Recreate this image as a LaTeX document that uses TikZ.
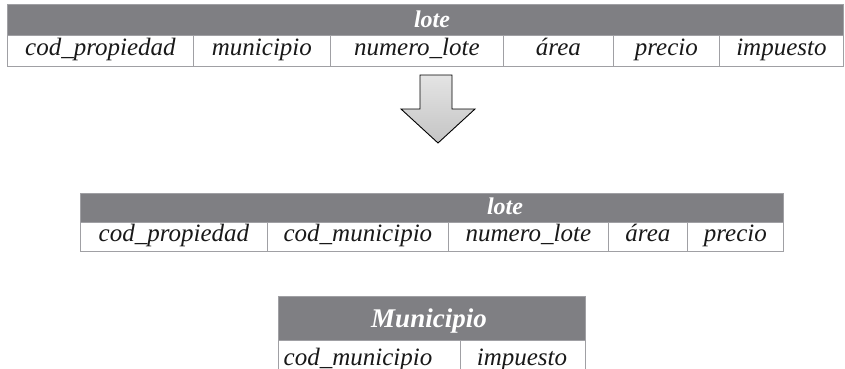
\documentclass[tikz,border=0pt]{standalone}
\usepackage{fontspec}
\setmainfont{Liberation Serif}
\begin{document}
\begin{tikzpicture}[x=1pt,y=-1pt,
  hdr/.style={fill=hdrgray, draw=bordergray, line width=0.8pt, inner sep=0pt, anchor=north west},
  cell/.style={fill=white, draw=bordergray, line width=0.8pt, inner sep=0pt, anchor=north west, font=\fontsize{25}{28}\selectfont\itshape, text=black!90, text height=15pt, text depth=5pt},
  celltext/.style={anchor=base, font=\fontsize{25}{28}\selectfont\itshape, text=black!90, inner sep=0pt},
  hdrtext/.style={font=\fontsize{24}{26}\selectfont\bfseries\itshape, text=white, inner sep=0pt},
  arrowshape/.style={draw=black, line width=0.9pt, top color=arrowtop, bottom color=arrowbot, line join=miter}
]
\definecolor{hdrgray}{RGB}{127,127,131}
\definecolor{bordergray}{RGB}{160,160,164}
\definecolor{arrowtop}{RGB}{228,228,228}
\definecolor{arrowbot}{RGB}{196,196,196}
\useasboundingbox (0,0) rectangle (845,369);
% table 1
\node[hdr, minimum width=836pt, minimum height=31pt] (h1) at (7,4) {};
\node[hdrtext] (h1t) at (432,19.5) {lote};
\node[cell, minimum width=186pt, minimum height=31pt] (a1) at (7,35) {cod\_propiedad};
\node[cell, minimum width=137pt, minimum height=31pt] (a2) at (193,35) {municipio};
\node[cell, minimum width=173pt, minimum height=31pt] (a3) at (330,35) {numero\_lote};
\node[cell, minimum width=110pt, minimum height=31pt] (a4) at (503,35) {área};
\node[cell, minimum width=106pt, minimum height=31pt] (a5) at (613,35) {precio};
\node[cell, minimum width=124pt, minimum height=31pt] (a6) at (719,35) {impuesto};
% arrow
\draw[arrowshape] (420,75) -- (452,75) -- (452,109) -- (475,109) -- (438,143) -- (401,109) -- (420,109) -- cycle;
% table 2
\node[hdr, minimum width=703pt, minimum height=29pt] (h2) at (80,193) {};
\node[hdrtext] (h2t) at (505,206) {lote};
\node[cell, minimum width=187pt, minimum height=29pt] (b1) at (80,222) {cod\_propiedad};
\node[cell, minimum width=181pt, minimum height=29pt] (b2) at (267,222) {cod\_municipio};
\node[cell, minimum width=160pt, minimum height=29pt] (b3) at (448,222) {numero\_lote};
\node[cell, minimum width=79pt, minimum height=29pt] (b4) at (608,222) {área};
\node[cell, minimum width=96pt, minimum height=29pt] (b5) at (687,222) {precio};
% table 3
\node[hdr, minimum width=307pt, minimum height=44pt] (h3) at (278,296) {};
\node[hdrtext, font=\fontsize{27}{29}\selectfont\bfseries\itshape] (h3t) at (429,321) {Municipio};
\node[cell, minimum width=182pt, minimum height=32pt] (c1) at (278,340) {};
\node[celltext] (c1t) at (358,365) {cod\_municipio};
\node[cell, minimum width=125pt, minimum height=32pt] (c2) at (460,340) {};
\node[celltext] (c2t) at (522,365) {impuesto};
\end{tikzpicture}
\end{document}
